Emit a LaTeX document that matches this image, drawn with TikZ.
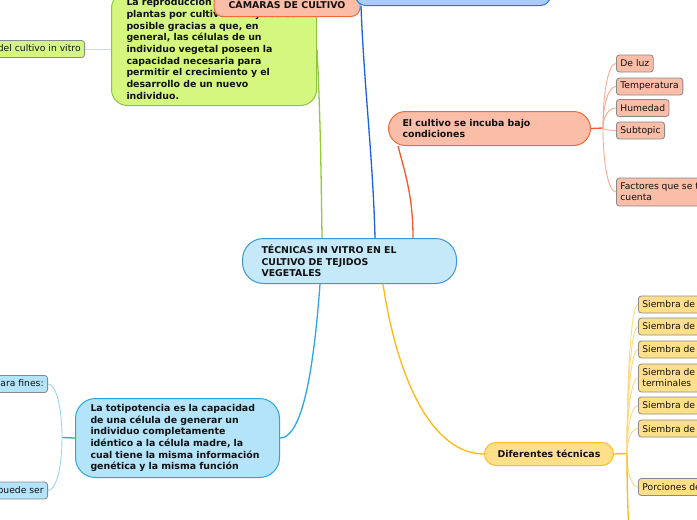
\documentclass[tikz,border=0pt]{standalone}
\usepackage{fontspec}
\setmainfont{DejaVu Sans}
\usetikzlibrary{calc}
\definecolor{cenfill}{HTML}{C6E9FA}
\definecolor{cenline}{HTML}{3D96D8}
\definecolor{grnfill}{HTML}{D6F77F}
\definecolor{grnline}{HTML}{8CC63F}
\definecolor{grnconn}{HTML}{94C93D}
\definecolor{grnlight}{HTML}{CDE8A0}
\definecolor{salfill}{HTML}{F9BDA8}
\definecolor{salline}{HTML}{F26B3A}
\definecolor{salconn}{HTML}{F4582A}
\definecolor{sallight}{HTML}{F9AA90}
\definecolor{yelfill}{HTML}{FFDF8A}
\definecolor{yelline}{HTML}{F9BF2C}
\definecolor{yelconn}{HTML}{FDB914}
\definecolor{yellight}{HTML}{FFD97A}
\definecolor{bluefill}{HTML}{B3E4FA}
\definecolor{blueline}{HTML}{29A6E0}
\definecolor{blueconn}{HTML}{29A8E8}
\definecolor{bluelight}{HTML}{9AD6F2}
\definecolor{topfill}{HTML}{A7CDF8}
\definecolor{topline}{HTML}{2A74E6}
\definecolor{topconn}{HTML}{1B63D9}
\definecolor{leafgray}{HTML}{8A8A8A}
\definecolor{txt}{HTML}{111111}
\newcommand\mmfont{\fontsize{9.4}{11.7}\selectfont\bfseries}
\newcommand\llfont{\fontsize{9.2}{11}\selectfont}
\tikzset{
  mainbox/.style={draw, line width=1pt, font=\mmfont, text=txt, align=left, inner ysep=0pt},
  leafbox/.style={draw=leafgray, line width=0.8pt, rounded corners=3pt, font=\llfont, text=txt,
    inner xsep=4pt, inner ysep=0pt, minimum height=17pt, align=left},
  mainconn/.style={line width=1.3pt},
  leafconn/.style={line width=0.9pt},
  lcurve/.style={to path={.. controls ($(\tikztostart)!0.6!(\tikztostart|-\tikztotarget)$) and ($(\tikztostart|-\tikztotarget)!0.45!(\tikztotarget)$) .. (\tikztotarget)}}
}
\begin{document}
\begin{tikzpicture}[x=1pt,y=-1pt]
\useasboundingbox (0,0) rectangle (697,520);
\clip (0,0) rectangle (697,520);
\fill[white] (0,0) rectangle (697,520);

% main nodes
\node[mainbox, fill=cenfill, draw=cenline, rounded corners=21pt, minimum width=214pt, minimum height=45pt,
  text width=176pt, inner xsep=19pt, anchor=north west] (cen) at (242,238)
  {TÉCNICAS IN VITRO EN EL\\CULTIVO DE TEJIDOS\\VEGETALES};

\node[mainbox, fill=grnfill, draw=grnline, rounded corners=16pt, text width=175pt, inner xsep=15pt,
  inner ysep=6pt, anchor=south west] (grn) at (111,106)
  {La reproducción de las\\plantas por cultivo de tejidos es\\posible gracias a que, en\\general, las células de un\\individuo vegetal poseen la\\capacidad necesaria para\\permitir el crecimiento y el\\desarrollo de un nuevo\\individuo.};

\node[mainbox, fill=salfill, draw=salline, rounded corners=9pt, minimum width=146pt, minimum height=24pt,
  align=center, anchor=south] (cam) at (287,17) {CÁMARAS DE CULTIVO};

\node[draw=topline, fill=topfill, line width=1pt, rounded corners=10pt, minimum width=195pt,
  minimum height=30pt, anchor=south west] (topb) at (355,6) {};

\node[mainbox, fill=salfill, draw=salline, rounded corners=17pt, minimum width=202pt, minimum height=34pt,
  text width=174pt, inner xsep=14pt, anchor=north west] (sal) at (388,111)
  {El cultivo se incuba bajo\\condiciones};

\node[mainbox, fill=yelfill, draw=yelline, rounded corners=11.5pt, minimum width=129pt, minimum height=23pt,
  align=center, anchor=north west] (yel) at (484,442) {Diferentes técnicas};

\node[mainbox, fill=bluefill, draw=blueline, rounded corners=20pt, minimum width=204pt, minimum height=79pt,
  text width=174pt, inner xsep=15pt, anchor=north west] (tot) at (75,398)
  {La totipotencia es la capacidad\\de una célula de generar un\\individuo completamente\\idéntico a la célula madre, la\\cual tiene la misma información\\genética y la misma función};

% leaves
\node[leafbox, fill=grnfill, anchor=east] (g1) at (85,49) {Importancia del cultivo in vitro};

\node[leafbox, fill=salfill, anchor=west] (s1) at (616,63.5) {De luz};
\node[leafbox, fill=salfill, anchor=west] (s2) at (616,86.5) {Temperatura};
\node[leafbox, fill=salfill, anchor=west] (s3) at (616,108) {Humedad};
\node[leafbox, fill=salfill, anchor=west] (s4) at (616,130.5) {Subtopic};
\node[leafbox, fill=salfill, anchor=west, minimum height=28pt] (s5) at (616,192) {Factores que se tienen en\\cuenta};

\node[leafbox, fill=yelfill, anchor=west] (y1) at (638,304.5) {Siembra de semillas};
\node[leafbox, fill=yelfill, anchor=west] (y2) at (638,326.5) {Siembra de embriones};
\node[leafbox, fill=yelfill, anchor=west] (y3) at (638,349.5) {Siembra de ápices};
\node[leafbox, fill=yelfill, anchor=west, minimum height=28pt] (y4) at (638,378) {Siembra de yemas\\terminales};
\node[leafbox, fill=yelfill, anchor=west] (y5) at (638,405.5) {Siembra de anteras};
\node[leafbox, fill=yelfill, anchor=west] (y6) at (638,428.5) {Siembra de óvulos};
\node[leafbox, fill=yelfill, anchor=west] (y7) at (638,487) {Porciones de tallo};

\node[leafbox, fill=bluefill, anchor=east] (b1) at (48,384) {Se utiliza para fines:};
\node[leafbox, fill=bluefill, anchor=east] (b2) at (48,490.5) {Su aplicación puede ser};

% hubs
\coordinate (shub) at (603,128);
\coordinate (yhub) at (627,453.5);
\coordinate (bhub) at (62,437.5);
\coordinate (yoff) at (634,560);

% main connectors
\draw[mainconn, grnconn] (grn.east) .. controls +(3,60) and +(-1,-80) .. ([xshift=80pt]cen.north west);
\draw[mainconn, topconn] ([xshift=6pt]topb.south west) .. controls +(3,80) and +(-2,-80) .. ([xshift=133pt]cen.north west);
\draw[mainconn, salconn] ([xshift=10pt]sal.south west) .. controls +(8,30) and +(0,-40) .. ([xshift=171pt]cen.north west);
\draw[mainconn, blueconn] ([xshift=78pt]cen.south west) .. controls +(-8,110) and +(18,0) .. (tot.east);
\draw[mainconn, yelconn] ([xshift=141pt]cen.south west) .. controls +(15,100) and +(-50,0) .. (yel.west);

% leaf connectors
\draw[leafconn, grnlight] (grn.west |- g1.east) -- (g1.east);

\draw[mainconn, salconn] (sal.east) -- (shub);
\foreach \n in {s1,s2,s3,s4,s5} \draw[leafconn, sallight] (shub) to[lcurve] (\n.west);

\draw[mainconn, yelconn] (yel.east) -- (yhub);
\foreach \n in {y1,y2,y3,y4,y5,y6,y7} \draw[leafconn, yellight] (yhub) to[lcurve] (\n.west);
\draw[mainconn, yelconn] (yhub) to[lcurve] (yoff);

\draw[mainconn, blueconn] (tot.west) -- (bhub);
\foreach \n in {b1,b2} \draw[leafconn, bluelight] (bhub) to[lcurve] (\n.east);
\end{tikzpicture}
\end{document}
